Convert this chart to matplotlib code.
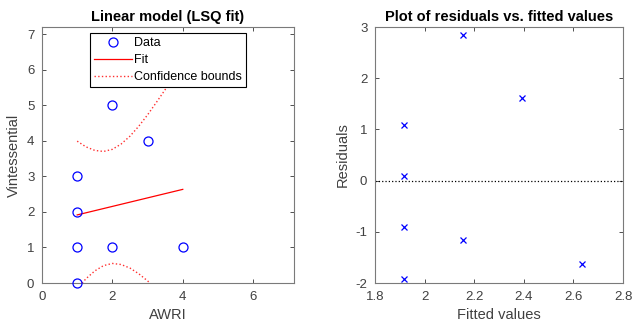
import matplotlib
matplotlib.use("Agg")
import matplotlib.pyplot as plt

plt.rcParams['font.family'] = ['Liberation Sans', 'DejaVu Sans']
plt.rcParams['axes.unicode_minus'] = False

# Data
awri = [1, 1, 1, 1, 2, 2, 3, 4]
vintessential = [0, 1, 2, 3, 1, 5, 4, 1]

# Fit line (endpoints)
fit_x = [1, 4]
fit_y = [1.915, 2.634]

# Confidence bounds
cb_x = [1.0, 1.25, 1.5, 1.75, 2.0, 2.25, 2.5, 2.75, 3.0, 3.25, 3.5, 3.75, 4.0]
cb_upper = [3.99, 3.83, 3.73, 3.70, 3.76, 3.91, 4.13, 4.41, 4.73, 5.08, 5.44, 5.83, 6.22]
cb_lower = [-0.16, 0.12, 0.34, 0.49, 0.55, 0.52, 0.42, 0.26, 0.06, -0.17, -0.42, -0.68, -0.96]

# Residuals vs fitted
fitted = [1.915, 1.915, 1.915, 1.915, 2.155, 2.155, 2.394, 2.634]
residuals = [-1.915, -0.915, 0.085, 1.085, -1.155, 2.845, 1.606, -1.634]

edge = '#7a7a7a'
txt = '#404040'

fig = plt.figure(figsize=(6.34, 3.29), dpi=100)
ax1 = fig.add_axes([0.0662, 0.1398, 0.3975, 0.778])
ax2 = fig.add_axes([0.5915, 0.1398, 0.3912, 0.778])

for ax in (ax1, ax2):
    for s in ax.spines.values():
        s.set_color(edge)
        s.set_linewidth(0.8)
    ax.tick_params(direction='in', length=3, width=0.6, color='#333333',
                   top=True, right=True, labelsize=9.5, labelcolor=txt, pad=5.5)

ax1.plot(awri, vintessential, 'o', color='blue', markerfacecolor='none',
         markersize=6.5, markeredgewidth=0.9, label='Data', clip_on=False, zorder=3)
ax1.plot(fit_x, fit_y, '-', color='red', linewidth=0.9, label='Fit')
ax1.plot(cb_x, cb_upper, ':', color='#ff3030', linewidth=1.0, label='Confidence bounds')
ax1.plot(cb_x, cb_lower, ':', color='#ff3030', linewidth=1.0)
ax1.set_xlim(0, 7.16)
ax1.set_ylim(0, 7.2)
ax1.set_xticks([0, 2, 4, 6])
ax1.set_yticks(range(0, 8))
ax1.set_title('Linear model (LSQ fit)', fontsize=10.5, fontweight='bold', pad=4)
ax1.set_xlabel('AWRI', fontsize=10.5, color=txt, labelpad=4)
ax1.set_ylabel('Vintessential', fontsize=10.5, color=txt, labelpad=4)
leg = ax1.legend(loc='upper center', bbox_to_anchor=(0.5, 0.978), fontsize=9,
                 frameon=True, fancybox=False, edgecolor='black', framealpha=1,
                 handlelength=3.0, borderaxespad=0, borderpad=0.35, labelspacing=0.4,
                 handletextpad=0.2)
leg.get_frame().set_linewidth(0.8)

ax2.plot(fitted, residuals, 'x', color='blue', markersize=5, markeredgewidth=0.9)
ax2.axhline(0, color='black', linestyle=':', linewidth=0.9)
ax2.set_xlim(1.8, 2.8)
ax2.set_ylim(-2, 3)
ax2.set_xticks([1.8, 2.0, 2.2, 2.4, 2.6, 2.8])
ax2.set_xticklabels(['1.8', '2', '2.2', '2.4', '2.6', '2.8'])
ax2.set_yticks([-2, -1, 0, 1, 2, 3])
ax2.set_title('Plot of residuals vs. fitted values', fontsize=10.5, fontweight='bold', pad=4)
ax2.set_xlabel('Fitted values', fontsize=10.5, color=txt, labelpad=4)
ax2.set_ylabel('Residuals', fontsize=10.5, color=txt, labelpad=4)

fig.savefig('out.png', dpi=100)
